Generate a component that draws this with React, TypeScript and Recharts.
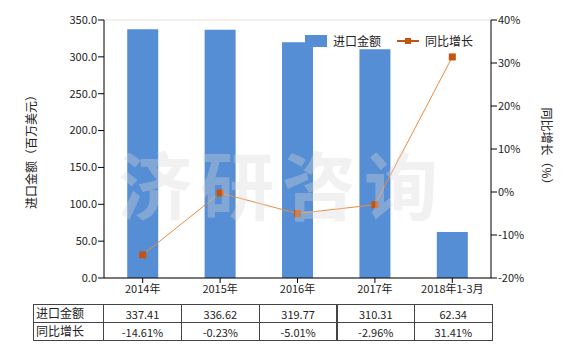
import React from 'react';
import { ComposedChart, Bar, Line, XAxis, YAxis, CartesianGrid } from 'recharts';

const categories = ['2014年', '2015年', '2016年', '2017年', '2018年1-3月'];
const importValues = [337.41, 336.62, 319.77, 310.31, 62.34];
const growthValues = [-14.61, -0.23, -5.01, -2.96, 31.41];
const importLabels = ['337.41', '336.62', '319.77', '310.31', '62.34'];
const growthLabels = ['-14.61%', '-0.23%', '-5.01%', '-2.96%', '31.41%'];
const leftTicks = [0, 50, 100, 150, 200, 250, 300, 350];
const rightTicks = [-20, -10, 0, 10, 20, 30, 40];
const seriesNames = ['进口金额', '同比增长'];
const leftTitle = '进口金额（百万美元）';
const rightTitle = '同比增长（%）';
const watermark = '济研咨询';

const data = categories.map((c, i) => ({ name: c, imp: importValues[i], growth: growthValues[i] }));

const FONT = '"Noto Sans CJK SC", "Noto Sans", sans-serif';
const BAR = '#558ED5';
const LINE = '#EE8A3C';
const MARK = '#C5520E';

const SquareDot = (props: any) => {
  const { cx, cy } = props;
  if (cx == null || cy == null) return null;
  return <rect x={cx - 3.5} y={cy - 3.5} width={7} height={7} fill={MARK} />;
};

const colLeft = [33, 103, 181, 258.7, 336.5, 414, 491.5];

export default function App() {
  return (
    <div style={{ position: 'absolute', left: 0, top: 0, width: 580, height: 350, background: '#fff', fontFamily: FONT }}>
      <ComposedChart width={580} height={350} data={data} margin={{ top: 20, right: 29, bottom: 52, left: 44 }} barCategoryGap="30%">
        <CartesianGrid vertical={false} stroke="#E6E3DC" />
        <XAxis dataKey="name" height={20} axisLine={{ stroke: '#000' }} tickLine={{ stroke: '#000' }} tickSize={5} tick={{ fontSize: 11, fill: '#222', fontFamily: FONT }} interval={0} />
        <YAxis yAxisId="left" domain={[0, 350]} ticks={leftTicks} width={60} axisLine={{ stroke: '#000' }} tickLine={{ stroke: '#000' }} tickSize={6} tickMargin={1} tickFormatter={(v: number) => v.toFixed(1)} tick={{ fontSize: 11, fill: '#222', fontFamily: FONT }} />
        <YAxis yAxisId="right" orientation="right" domain={[-20, 40]} ticks={rightTicks} width={60} axisLine={{ stroke: '#000' }} tickLine={{ stroke: '#000' }} tickSize={6} tickMargin={1} tickFormatter={(v: number) => `${v}%`} tick={{ fontSize: 11, fill: '#222', fontFamily: FONT }} />
        <Bar yAxisId="left" dataKey="imp" fill={BAR} isAnimationActive={false} />
        <Line yAxisId="right" dataKey="growth" stroke={LINE} strokeWidth={1} dot={<SquareDot />} activeDot={false} isAnimationActive={false} />
      </ComposedChart>

      <div style={{ position: 'absolute', left: 305, top: 32, display: 'flex', alignItems: 'center', fontSize: 12, color: '#222' }}>
        <span style={{ display: 'inline-block', width: 22, height: 12, background: BAR, marginRight: 6 }} />
        <span style={{ marginRight: 16 }}>{seriesNames[0]}</span>
        <svg width={22} height={10} style={{ marginRight: 6 }}>
          <line x1={0} y1={5} x2={22} y2={5} stroke={MARK} strokeWidth={2} />
          <rect x={8} y={2} width={6} height={6} fill={MARK} />
        </svg>
        <span>{seriesNames[1]}</span>
      </div>

      <div style={{ position: 'absolute', left: 118, top: 128, fontSize: 74, fontWeight: 'bold', color: 'rgba(215,215,215,0.35)', letterSpacing: 8, pointerEvents: 'none', whiteSpace: 'nowrap' }}>{watermark}</div>

      <div style={{ position: 'absolute', left: 30, top: 149, transform: 'translate(-50%,-50%) rotate(-90deg)', fontSize: 12, color: '#222', whiteSpace: 'nowrap' }}>{leftTitle}</div>
      <div style={{ position: 'absolute', left: 547, top: 149, transform: 'translate(-50%,-50%) rotate(90deg)', fontSize: 12, color: '#222', whiteSpace: 'nowrap' }}>{rightTitle}</div>

      {[importLabels, growthLabels].map((row, r) => (
        <React.Fragment key={r}>
          <div style={{ position: 'absolute', left: colLeft[0], top: 304 + r * 18, width: colLeft[1] - colLeft[0] + 1, height: 19, boxSizing: 'border-box', border: '1px solid #444', fontSize: 12, lineHeight: '16px', paddingLeft: 2, color: '#222' }}>{seriesNames[r]}</div>
          {row.map((t, i) => (
            <div key={i} style={{ position: 'absolute', left: colLeft[i + 1], top: 304 + r * 18, width: colLeft[i + 2] - colLeft[i + 1] + 1, height: 19, boxSizing: 'border-box', border: '1px solid #444', fontSize: 11, lineHeight: '18px', textAlign: 'center', color: '#222' }}>{t}</div>
          ))}
        </React.Fragment>
      ))}
    </div>
  );
}
